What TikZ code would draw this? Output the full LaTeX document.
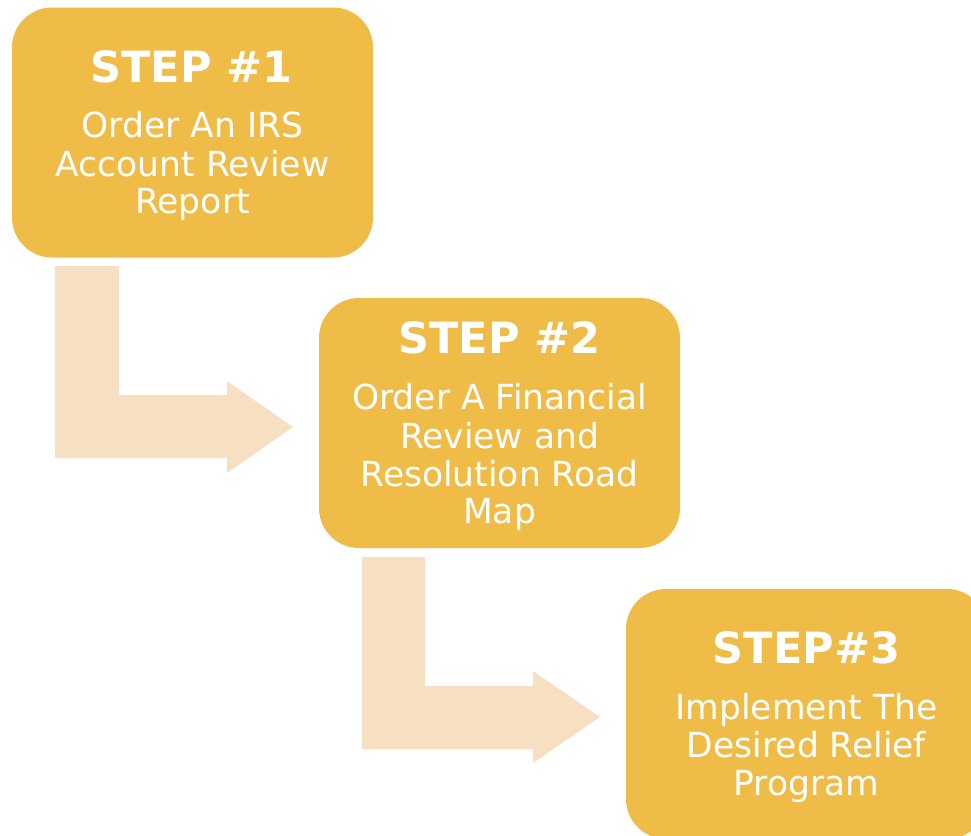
\documentclass[tikz,border=0pt]{standalone}
\usepackage{fontspec}
\setmainfont{DejaVu Sans}
\definecolor{boxfill}{RGB}{240,188,72}
\definecolor{arrowfill}{RGB}{247,224,193}
\begin{document}
\begin{tikzpicture}[x=1pt,y=-1pt,
  stepbox/.style={fill=boxfill,draw=none,rounded corners=40pt,minimum width=361pt,minimum height=250pt,inner sep=0pt},
  steptitle/.style={text=white,font=\fontsize{43}{50}\selectfont\bfseries,anchor=base,inner sep=0pt},
  stepbody/.style={text=white,font=\fontsize{34.5}{38.5}\selectfont,anchor=base,inner sep=0pt,align=center},
  bentarrow/.style={fill=arrowfill,draw=none}]
\useasboundingbox (0,0) rectangle (971,835);
\begin{scope}
\clip (0,0) rectangle (971,835);
\node[stepbox] (b1) at (192.5,132.5) {};
\node[stepbox] (b2) at (499.5,423) {};
\node[stepbox] (b3) at (806.5,714) {};
\end{scope}
% titles
\node[steptitle] (t1) at (191.5,82) {STEP \#1};
\node[steptitle] (t2) at (499.5,353) {STEP \#2};
\node[steptitle] (t3) at (806.5,663) {STEP\#3};
% bodies
\node[stepbody] (x1a) at (192.5,137) {Order An IRS};
\node[stepbody] (x1b) at (192.5,176) {Account Review};
\node[stepbody] (x1c) at (192.5,213) {Report};
\node[stepbody] (x2a) at (499.5,409) {Order A Financial};
\node[stepbody] (x2b) at (499.5,448) {Review and};
\node[stepbody] (x2c) at (499.5,486) {Resolution Road};
\node[stepbody] (x2d) at (499.5,523) {Map};
\node[stepbody] (x3a) at (806.5,719) {Implement The};
\node[stepbody] (x3b) at (806.5,757) {Desired Relief};
\node[stepbody] (x3c) at (806.5,795) {Program};
% bent arrows
\fill[bentarrow] (55,266) -- (119,266) -- (119,395) -- (227,395) -- (227,381)
  -- (293,427) -- (227,473) -- (227,458) -- (55,458) -- cycle;
\fill[bentarrow] (362,557) -- (425,557) -- (425,686) -- (533,686) -- (533,671)
  -- (600,717) -- (533,763) -- (533,749) -- (362,749) -- cycle;
\end{tikzpicture}
\end{document}
